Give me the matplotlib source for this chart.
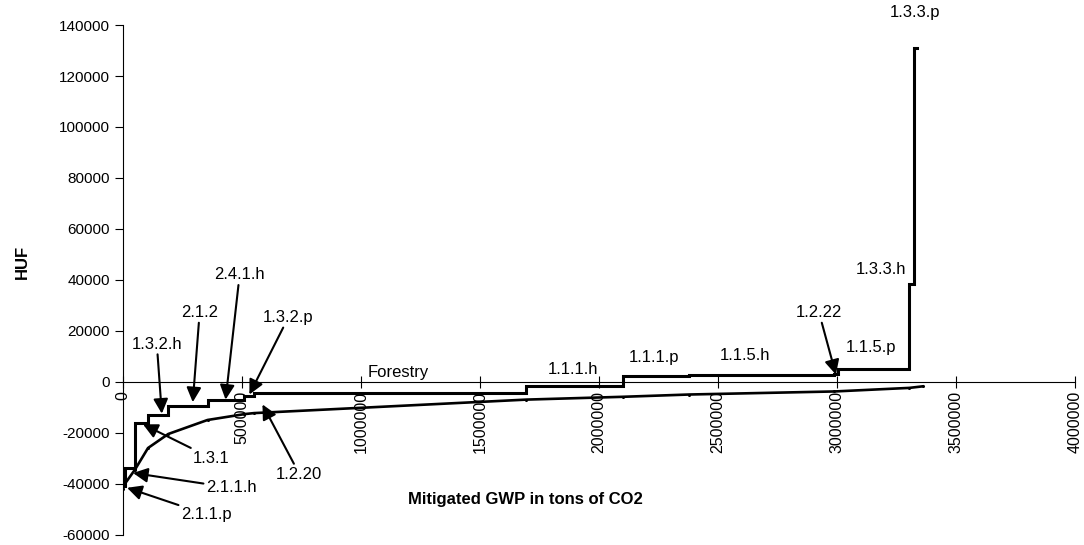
import matplotlib.pyplot as plt
import matplotlib.ticker as mticker
import numpy as np

plt.rcParams['font.family'] = ['Liberation Sans', 'DejaVu Sans']

# step curve: right edge of each measure block (cumulative GWP) and its cost level
step_edges = [0, 8000, 50000, 105000, 190000, 355000, 510000, 550000,
              1695000, 2100000, 2380000, 2990000, 3005000, 3305000, 3325000, 3335000]
step_cost = [-41000, -34000, -16300, -13200, -9700, -7000, -5400, -4300,
             -1500, 2300, 2600, 3000, 5200, 38500, 131000]

# lower curve (average cost)
avg_x = [0, 8000, 50000, 105000, 190000, 355000, 510000, 550000,
         1695000, 2100000, 2380000, 2990000, 3305000, 3360000]
avg_y = [-42000, -40000, -34500, -26000, -20500, -15000, -12700, -12300,
         -7000, -5900, -5000, -3800, -2400, -1800]

# labels without arrows: (text, x, y)
plain_labels = [('1.3.3.p', 3330000, 145000), ('1.3.3.h', 3185000, 44000),
                ('1.1.5.p', 3145000, 13600), ('1.1.5.h', 2615000, 10500),
                ('1.1.1.p', 2230000, 9700), ('1.1.1.h', 1890000, 5000),
                ('Forestry', 1155000, 3500)]

# labels with arrows: (text, text x, text y, tip x, tip y)
arrow_labels = [('1.2.22', 2925000, 27200, 2996000, 2800),
                ('1.3.2.p', 695000, 25300, 531000, -5000),
                ('2.4.1.h', 490000, 42000, 431000, -7000),
                ('2.1.2', 322000, 27200, 293000, -8000),
                ('1.3.2.h', 142000, 14800, 163000, -12500),
                ('1.3.1', 372000, -30000, 84000, -16700),
                ('1.2.20', 741000, -36200, 586000, -8900),
                ('2.1.1.h', 456000, -41600, 42000, -35800),
                ('2.1.1.p', 351000, -52100, 17000, -41600)]

fig = plt.figure(figsize=(10.84, 5.45), dpi=100)
ax = fig.add_axes([0.1135, 0.019, 0.878, 0.935])

sx = np.repeat(step_edges, 2)[1:-1]
sy = np.repeat(step_cost, 2)
ax.plot(sx, sy, color='k', lw=2.2, solid_joinstyle='miter')
ax.plot(avg_x, avg_y, color='k', lw=1.9, marker='o', markersize=1.2)

for t, x, y in plain_labels:
    ax.text(x, y, t, ha='center', va='center', fontsize=12, clip_on=False)
for t, x, y, tx, ty in arrow_labels:
    ax.annotate(t, xy=(tx, ty), xytext=(x, y), ha='center', va='center', fontsize=12,
                arrowprops=dict(arrowstyle='-|>', color='k', lw=1.5, mutation_scale=22,
                                shrinkA=0, shrinkB=0))

ax.set_xlim(0, 4000000)
ax.set_ylim(-60000, 140000)
ax.set_xticks(range(0, 4000001, 500000))
ax.set_yticks(range(-60000, 140001, 20000))
plain = mticker.FuncFormatter(lambda v, p: str(int(v)))
ax.xaxis.set_major_formatter(plain)
ax.yaxis.set_major_formatter(plain)
for s in ['top', 'right']:
    ax.spines[s].set_visible(False)
ax.spines['bottom'].set_position(('data', 0))
ax.spines['left'].set_position(('data', 0))
ax.tick_params(axis='x', direction='inout', length=9, labelsize=11.5, labelrotation=90, pad=2)
ax.tick_params(axis='y', direction='out', length=6, labelsize=11)

fig.text(0.021, 0.52, 'HUF', rotation=90, ha='center', va='center', fontsize=12, fontweight='bold')
fig.text(0.485, 0.083, 'Mitigated GWP in tons of CO2', ha='center', va='center',
         fontsize=12, fontweight='bold')

plt.savefig('out.png', dpi=100)
